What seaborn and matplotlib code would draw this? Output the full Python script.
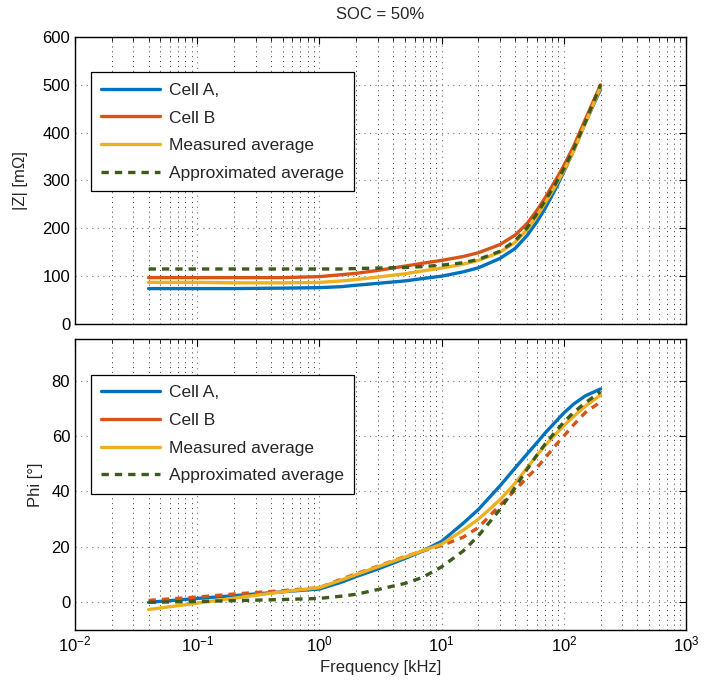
import numpy as np
import pandas as pd
import matplotlib
matplotlib.use("Agg")
import matplotlib.pyplot as plt
import seaborn as sns
from matplotlib.lines import Line2D
from matplotlib.ticker import LogLocator, NullFormatter, FixedLocator

# ---------------- data ----------------
freq = [0.04, 0.1, 0.2, 0.5, 1, 1.5, 2, 3, 5, 7, 10, 15, 20, 30, 40,
        50, 60, 70, 85, 100, 120, 150, 200]

z_cell_a = [74, 74, 74, 75, 76, 78, 81, 85, 90, 95, 100, 109, 117.5, 137, 158,
            185, 213, 241, 281, 318, 362, 421, 491]
z_cell_b = [97, 97, 97, 97, 99, 103, 106, 112, 121, 127, 133, 141, 149, 166, 186,
            210, 237, 263, 299, 331, 371, 428, 500]
z_meas_avg = [87, 87, 86, 86, 87, 90, 93, 98, 105, 111, 117, 125, 133, 150, 171,
              197, 225, 252, 288, 320, 361, 420, 495]
z_approx_avg = [115, 115, 115, 115, 115, 115, 116, 117, 118, 120, 123, 128, 135, 152, 174,
                201, 230, 257, 292, 324, 365, 422, 500]

phi_cell_a = [0, 1.4, 2.4, 3.8, 4.8, 7.2, 9.3, 12, 15.8, 18.5, 22, 28.5, 33.5, 42, 48.5,
              53.5, 57.5, 61, 65, 68.3, 71.5, 74.5, 77]
phi_cell_b = [0.7, 1.9, 3.0, 4.2, 5.3, 8.3, 10.3, 13, 16.5, 18.5, 20.5, 23.5, 27, 35, 40.5,
              45, 48.5, 52, 56.5, 60, 64, 68.5, 72.3]
phi_meas_avg = [-2.6, -0.3, 1.5, 3.8, 5.3, 8, 10, 12.8, 16.3, 18.6, 21, 26, 30, 37, 43,
                48.5, 53, 56.5, 60.5, 63.8, 67, 70.8, 74.8]
phi_approx_avg = [0, 0.3, 0.6, 1.0, 1.4, 2.2, 2.9, 4.6, 6.8, 9, 12.8, 18.5, 24, 33.5, 41.5,
                  48, 53, 57, 61.5, 65, 68.5, 72, 76]

series_names = ["Cell A,", "Cell B", "Measured average", "Approximated average"]
title = "SOC = 50%"

# ---------------- style ----------------
sns.set_style("white")
plt.rcParams["font.family"] = ["Liberation Sans", "DejaVu Sans"]
plt.rcParams["mathtext.fontset"] = "custom"
plt.rcParams["mathtext.rm"] = "Liberation Sans"
plt.rcParams["mathtext.it"] = "Liberation Sans:italic"

colors = ["#0072BD", "#D95319", "#EDB120", "#3E5A1C"]
lw = 2.4
dash = (0, (2.2, 1.8))

fig = plt.figure(figsize=(7.11, 6.86), dpi=100)
ax1 = fig.add_axes([0.1055, 0.5277, 0.8594, 0.4184])
ax2 = fig.add_axes([0.1055, 0.0816, 0.8594, 0.4242])

def draw(ax, ys, styles):
    for name, y, c, ls in zip(series_names, ys, colors, styles):
        df = pd.DataFrame({"f": freq, "v": y})
        sns.lineplot(data=df, x="f", y="v", ax=ax, color=c, lw=lw,
                     linestyle=ls, legend=False, sort=False)

draw(ax1, [z_cell_a, z_cell_b, z_meas_avg, z_approx_avg], ["-", "-", "-", dash])
draw(ax2, [phi_cell_a, phi_cell_b, phi_meas_avg, phi_approx_avg], ["-", dash, "-", dash])

fs = 12
for ax in (ax1, ax2):
    ax.set_xscale("log")
    ax.set_xlim(1e-2, 1e3)
    ax.xaxis.set_major_locator(LogLocator(base=10, numticks=10))
    ax.xaxis.set_minor_locator(LogLocator(base=10, subs=np.arange(2, 10), numticks=20))
    ax.xaxis.set_minor_formatter(NullFormatter())
    ax.grid(True, which="major", linestyle=(0, (1, 4)), color="0.45", lw=0.8)
    ax.grid(True, which="minor", axis="x", linestyle=(0, (1, 4)), color="0.2", lw=0.7)
    ax.tick_params(which="both", direction="in", top=True, right=True,
                   labelsize=fs, colors="black")
    ax.tick_params(which="major", length=5, width=0.8)
    ax.tick_params(which="minor", length=3, width=0.6)
    for s in ax.spines.values():
        s.set_color("black")
        s.set_linewidth(1.0)
    ax.set_axisbelow(True)

ax1.set_ylim(0, 600)
ax1.yaxis.set_major_locator(FixedLocator([0, 100, 200, 300, 400, 500, 600]))
ax1.set_xlabel("")
ax1.set_xticklabels([])
ax1.set_ylabel("|Z| [m\u03a9]", fontsize=fs, labelpad=10)
ax1.set_title(title, fontsize=fs, pad=13)

ax2.set_ylim(-10, 95)
ax2.yaxis.set_major_locator(FixedLocator([0, 20, 40, 60, 80]))
ax2.set_xlabel("Frequency [kHz]", fontsize=fs)
ax2.set_ylabel("Phi [\u00b0]", fontsize=fs, labelpad=6)

handles = [Line2D([], [], color=colors[0], lw=lw),
           Line2D([], [], color=colors[1], lw=lw),
           Line2D([], [], color=colors[2], lw=lw),
           Line2D([], [], color=colors[3], lw=lw, linestyle=dash)]

for ax in (ax1, ax2):
    leg = ax.legend(handles, series_names, loc="upper left",
                    bbox_to_anchor=(0.026, 0.877), fontsize=12.5,
                    frameon=True, fancybox=False, edgecolor="black",
                    framealpha=1, handlelength=3.4, handletextpad=0.5,
                    labelspacing=0.72, borderpad=0.6, borderaxespad=0)
    leg.get_frame().set_linewidth(0.9)

fig.savefig("out.png", dpi=100)
